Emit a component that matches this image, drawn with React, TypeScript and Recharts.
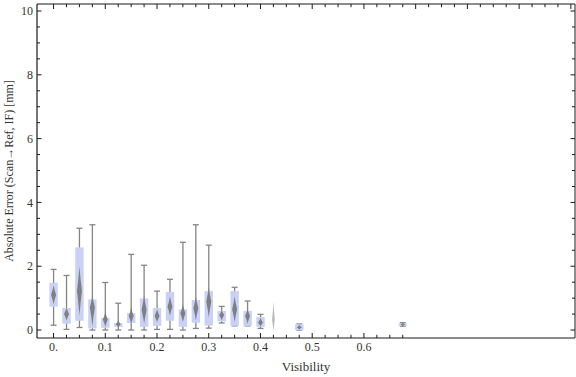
import React from 'react';
import { ComposedChart, Bar, Scatter, XAxis, YAxis } from 'recharts';

// Visibility bins (category positions)
const positions = [0, 0.025, 0.05, 0.075, 0.1, 0.125, 0.15, 0.175, 0.2, 0.225, 0.25, 0.275, 0.3, 0.325, 0.35, 0.375, 0.4, 0.425, 0.475, 0.675];
// whisker min / max (null = not drawn)
const whiskerLow = [0.15, 0.02, 0.08, 0.0, 0.0, 0.0, 0.0, 0.0, 0.02, 0.02, 0.0, 0.05, 0.06, 0.22, 0.13, 0.13, 0.05, null, 0.0, 0.12];
const whiskerHigh = [1.9, 1.71, 3.19, 3.3, 1.49, 0.84, 2.37, 2.03, 1.22, 1.59, 2.75, 3.3, 2.66, 0.74, 1.34, 0.91, 0.49, null, 0.19, 0.23];
// box quartiles
const q1 = [0.73, 0.2, 0.29, 0.05, 0.07, 0.1, 0.22, 0.1, 0.13, 0.29, 0.1, 0.23, 0.14, 0.27, 0.13, 0.13, 0.1, null, 0.0, 0.14];
const q3 = [1.48, 0.69, 2.59, 0.96, 0.38, 0.22, 0.53, 0.99, 0.69, 1.19, 0.65, 0.94, 1.22, 0.6, 1.22, 0.6, 0.41, null, 0.18, 0.21];
// density (diamond) centre and extent
const median = [1.1, 0.5, 1.22, 0.71, 0.33, 0.18, 0.44, 0.63, 0.44, 0.73, 0.52, 0.68, 0.89, 0.47, 0.65, 0.44, 0.23, 0.32, 0.08, 0.17];
const densLow = [0.8, 0.3, 0.45, 0.12, 0.1, 0.08, 0.2, 0.2, 0.25, 0.45, 0.25, 0.3, 0.4, 0.3, 0.25, 0.2, 0.12, -0.05, 0.02, 0.13];
const densHigh = [1.4, 0.7, 2.0, 1.08, 0.55, 0.3, 0.7, 1.1, 0.65, 1.05, 0.8, 1.05, 1.35, 0.62, 1.05, 0.65, 0.38, 0.88, 0.16, 0.22];

const xTicksBottom = Array.from({ length: 28 }, (_, i) => +(i * 0.025).toFixed(3));
const xTicksTop = Array.from({ length: 41 }, (_, i) => +(i * 0.025).toFixed(3));
const yTicks = Array.from({ length: 21 }, (_, i) => i * 0.5);

const data = positions.map((x, i) => {
  const vals = [whiskerLow[i], whiskerHigh[i], q1[i], q3[i], densLow[i], densHigh[i]].filter((v) => v != null) as number[];
  return {
    x,
    wlo: whiskerLow[i],
    whi: whiskerHigh[i],
    q1: q1[i],
    q3: q3[i],
    med: median[i],
    dlo: densLow[i],
    dhi: densHigh[i],
    lo: Math.min(...vals),
    hi: Math.max(...vals),
  };
});

const FONT = '"Liberation Serif", "Times New Roman", serif';
const AXIS = '#1a1a1a';
const LABEL = '#333';

const isMult = (v: number, step: number) => Math.abs(v / step - Math.round(v / step)) < 1e-6;

const BottomTick = (props: any) => {
  const { x, y, payload } = props;
  const v = payload.value;
  const major = isMult(v, 0.1);
  return (
    <g>
      <line x1={x} x2={x} y1={y} y2={y - (major ? 5 : 3.2)} stroke={AXIS} strokeWidth={1} />
      {major && (
        <text x={x} y={y + 13} textAnchor="middle" fontSize={12} fontFamily={FONT} fill={LABEL}>
          {v === 0 ? '0.' : v.toFixed(1)}
        </text>
      )}
    </g>
  );
};

const TopTick = (props: any) => {
  const { x, y, payload } = props;
  const major = isMult(payload.value, 0.1);
  return <line x1={x} x2={x} y1={y} y2={y + (major ? 5 : 3.2)} stroke={AXIS} strokeWidth={1} />;
};

const LeftTick = (props: any) => {
  const { x, y, payload } = props;
  const v = payload.value;
  const major = isMult(v, 2);
  return (
    <g>
      <line x1={x} x2={x + (major ? 4.5 : 3)} y1={y} y2={y} stroke={AXIS} strokeWidth={1} />
      {major && (
        <text x={x - 4} y={y} dy="0.35em" textAnchor="end" fontSize={12} fontFamily={FONT} fill={LABEL}>
          {v}
        </text>
      )}
    </g>
  );
};

const RightTick = (props: any) => {
  const { x, y, payload } = props;
  const major = isMult(payload.value, 2);
  return <line x1={x} x2={x - (major ? 4.5 : 3)} y1={y} y2={y} stroke={AXIS} strokeWidth={1} />;
};

const BoxShape = (p: any) => {
  const { x, y, width, height, payload: d } = p;
  if (d == null || !isFinite(y) || !isFinite(height)) return null;
  const cx = x + width / 2;
  const span = d.hi - d.lo || 1;
  const py = (v: number) => y + ((d.hi - v) / span) * height;
  const parts: any[] = [];
  const wc = '#858585';
  if (d.wlo != null && d.whi != null) {
    const a = py(d.whi);
    const b = py(d.wlo);
    parts.push(<line key="w" x1={cx} x2={cx} y1={a} y2={b} stroke={wc} strokeWidth={1.3} />);
    parts.push(<line key="c1" x1={cx - 3} x2={cx + 3} y1={a} y2={a} stroke={wc} strokeWidth={1.3} />);
    parts.push(<line key="c2" x1={cx - 3} x2={cx + 3} y1={b} y2={b} stroke={wc} strokeWidth={1.3} />);
  }
  if (d.q1 != null && d.q3 != null) {
    const t = py(d.q3);
    const b = py(d.q1);
    parts.push(<rect key="b" x={cx - 4.2} y={t} width={8.4} height={Math.max(b - t, 1)} fill="#c9d1f5" />);
  }
  const top = py(d.dhi);
  const bot = py(d.dlo);
  const mid = py(d.med);
  const faint = d.q1 == null;
  const w = faint ? 1.4 : 2.5;
  const k = 0.35;
  const path = `M ${cx} ${top} Q ${cx + w * k} ${(top + mid) / 2} ${cx + w} ${mid} Q ${cx + w * k} ${(mid + bot) / 2} ${cx} ${bot} Q ${cx - w * k} ${(mid + bot) / 2} ${cx - w} ${mid} Q ${cx - w * k} ${(top + mid) / 2} ${cx} ${top} Z`;
  parts.push(<path key="d" d={path} fill="#777" fillOpacity={faint ? 0.5 : 0.9} />);
  return <g>{parts}</g>;
};

export default function App() {
  return (
    <div style={{ position: 'absolute', left: 0, top: 0, width: 576, height: 377, background: '#fff' }}>
      <ComposedChart width={576} height={377} data={data} margin={{ top: 4, right: 1, bottom: 0, left: 0 }}>
        <XAxis
          xAxisId="b"
          dataKey="x"
          type="number"
          domain={[-0.032, 1.008]}
          ticks={xTicksBottom}
          interval={0}
          tickSize={0}
          tickMargin={0}
          tick={<BottomTick />}
          height={39}
          axisLine={{ stroke: AXIS, strokeWidth: 1.2 }}
          label={{ value: 'Visibility', position: 'center', dy: 9, style: { fontFamily: FONT, fontSize: 13, fill: LABEL } }}
        />
        <XAxis
          xAxisId="t"
          dataKey="x"
          orientation="top"
          mirror
          type="number"
          domain={[-0.032, 1.008]}
          ticks={xTicksTop}
          interval={0}
          tickSize={0}
          tickMargin={0}
          tick={<TopTick />}
          height={10}
          axisLine={{ stroke: AXIS, strokeWidth: 1 }}
        />
        <YAxis
          yAxisId="l"
          type="number"
          domain={[-0.25, 10.22]}
          ticks={yTicks}
          interval={0}
          tickSize={0}
          tickMargin={0}
          tick={<LeftTick />}
          width={37}
          axisLine={{ stroke: AXIS, strokeWidth: 1.2 }}
          label={{
            value: 'Absolute Error (Scan\u2192Ref, IF) [mm]',
            angle: -90,
            position: 'center',
            dx: -10,
            style: { fontFamily: FONT, fontSize: 12, fill: LABEL, textAnchor: 'middle' },
          }}
        />
        <YAxis
          yAxisId="r"
          orientation="right"
          mirror
          type="number"
          domain={[-0.25, 10.22]}
          ticks={yTicks}
          interval={0}
          tickSize={0}
          tickMargin={0}
          tick={<RightTick />}
          width={10}
          axisLine={{ stroke: AXIS, strokeWidth: 1 }}
        />
        <Bar
          xAxisId="b"
          yAxisId="l"
          dataKey={(d: any) => [d.lo, d.hi]}
          barSize={9}
          shape={(p: any) => <BoxShape {...p} />}
          isAnimationActive={false}
        />
        <Scatter
          xAxisId="t"
          yAxisId="r"
          dataKey="med"
          shape={() => <g />}
          isAnimationActive={false}
        />
      </ComposedChart>
    </div>
  );
}
